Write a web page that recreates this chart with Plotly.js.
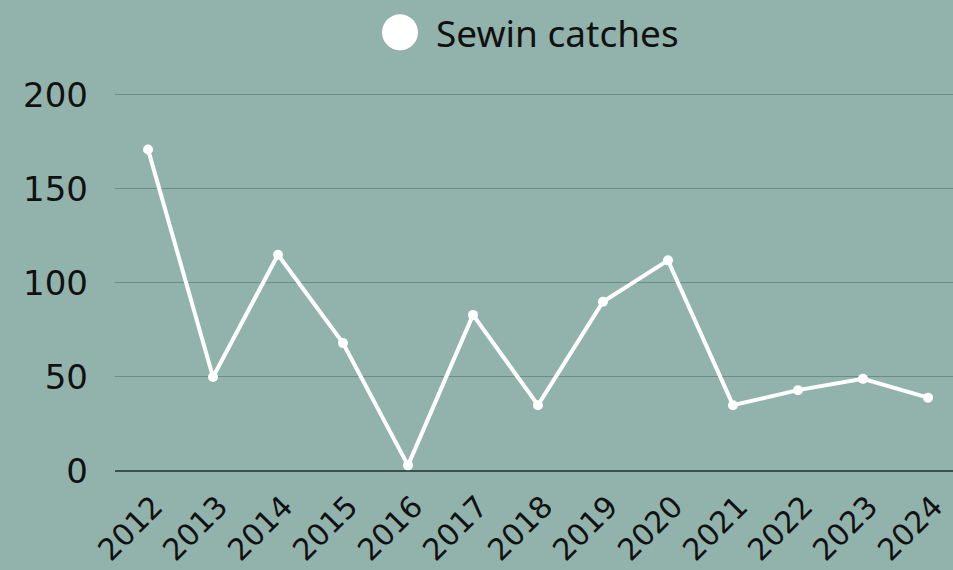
<!DOCTYPE html>
<html>
<head>
<meta charset="utf-8">
<script src="https://cdn.plot.ly/plotly-3.0.1.min.js"></script>
<style>html,body{margin:0;padding:0;background:#91b3ac;}#chart{width:953px;height:570px;}</style>
</head>
<body>
<div id="chart"></div>
<script>
const years = ["2012","2013","2014","2015","2016","2017","2018","2019","2020","2021","2022","2023","2024"];
const catches = [171, 50, 115, 68, 3, 83, 35, 90, 112, 35, 43, 49, 39];
const yTicks = [0, 50, 100, 150, 200];
const seriesName = "Sewin catches";

const trace = {
  x: years,
  y: catches,
  type: "scatter",
  mode: "lines+markers",
  name: seriesName,
  showlegend: false,
  line: {color: "#ffffff", width: 4},
  marker: {color: "#ffffff", size: 10}
};

const layout = {
  width: 953,
  height: 570,
  paper_bgcolor: "#91b3ac",
  plot_bgcolor: "#91b3ac",
  margin: {l: 115, r: 0, t: 93, b: 99},
  font: {family: "DejaVu Sans, sans-serif", color: "#111111", size: 34},
  showlegend: false,
  shapes: [{
    type: "circle",
    xref: "paper", yref: "paper",
    xsizemode: "pixel", ysizemode: "pixel",
    xanchor: 0.3401, yanchor: 1.1606,
    x0: -18, x1: 18, y0: -18, y1: 18,
    fillcolor: "#ffffff",
    line: {width: 0}
  }],
  annotations: [{
    text: seriesName,
    xref: "paper", yref: "paper",
    x: 0.3807, y: 1.1606,
    xanchor: "left", yanchor: "middle",
    showarrow: false,
    font: {family: "Noto Sans, sans-serif", size: 37, color: "#111111"}
  }],
  xaxis: {
    type: "category",
    range: [-0.508, 12.385],
    tickangle: -45,
    showgrid: false,
    zeroline: false,
    showline: false,
    ticks: "",
    ticklabelstandoff: 11,
    ticklabelshift: 6,
    tickfont: {size: 30, color: "#111111"}
  },
  yaxis: {
    range: [0, 201],
    tickvals: yTicks,
    ticktext: yTicks.map(String),
    showgrid: true,
    gridcolor: "#6c8c85",
    gridwidth: 1,
    zeroline: true,
    zerolinecolor: "#3d524d",
    zerolinewidth: 1.5,
    ticks: "",
    ticklabelstandoff: 26,
    tickfont: {size: 34, color: "#111111"}
  }
};

Plotly.newPlot("chart", [trace], layout, {displayModeBar: false, staticPlot: true});
</script>
</body>
</html>
